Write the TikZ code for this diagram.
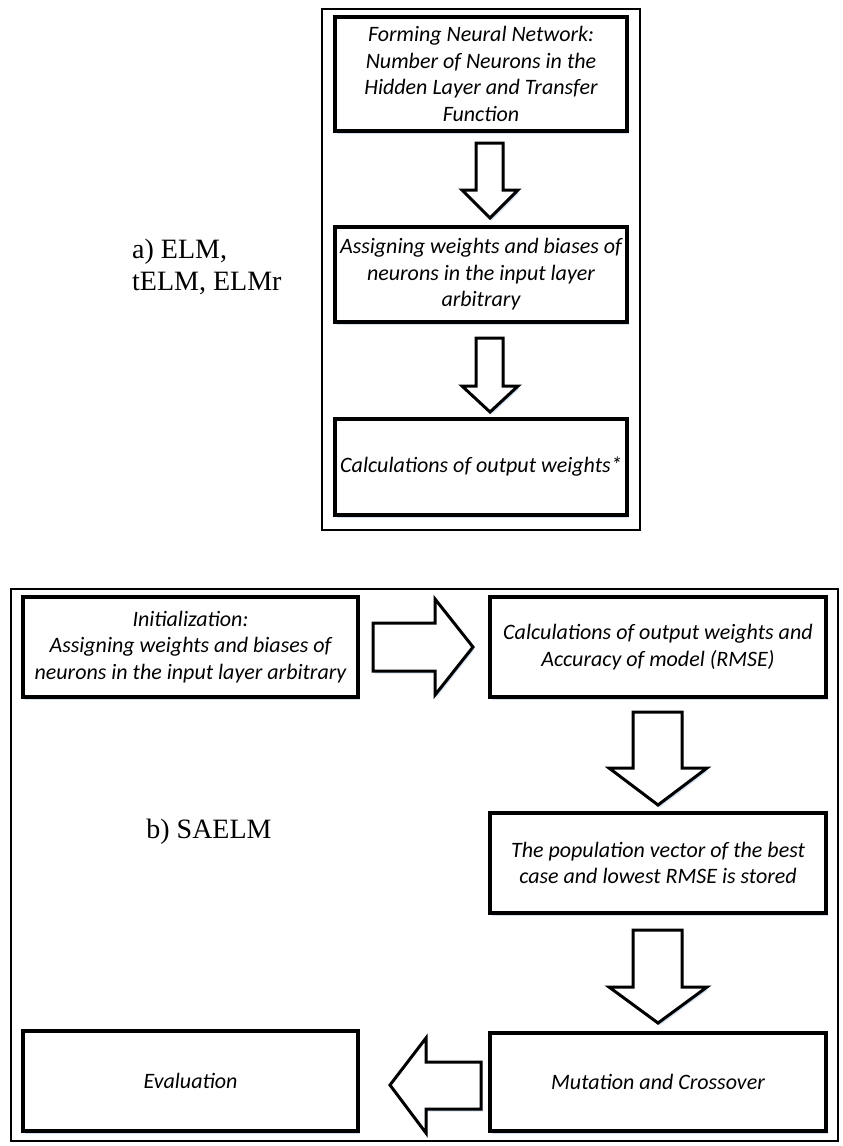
\documentclass[tikz,border=0pt]{standalone}
\usepackage{fontspec}
\setmainfont{Liberation Serif}
\newfontfamily\boxfont{Carlito}
\usetikzlibrary{shadows}
\begin{document}
\begin{tikzpicture}[x=1pt,y=-1pt,
  glow/.style={drop shadow={shadow xshift=1.5pt,shadow yshift=-2.5pt,fill={rgb,255:red,190;green,210;blue,235},opacity=0.7}},
  stepbox/.style={draw=black,line width=3.3pt,fill=white,glow,align=center,inner sep=0pt,
    font=\boxfont\itshape\fontsize{22}{26.5}\selectfont},
  frame/.style={draw=black,line width=1.6pt},
  blockarrow/.style={draw=black,line width=3pt,fill=white,line join=miter,glow},
  lab/.style={font=\fontsize{28}{32}\selectfont,inner sep=0pt}
]
\useasboundingbox (0,0) rectangle (843,1146);
\fill[white] (0,0) rectangle (843,1146);

% ---------- a) ELM, tELM, ELMr ----------
\draw[frame] (322,9) rectangle (640,530);
\node[stepbox,minimum width=292pt,minimum height=114pt] (b1) at (481,74)
  {Forming Neural Network:\\Number of Neurons in the\\Hidden Layer and Transfer\\Function};
\node[stepbox,minimum width=292pt,minimum height=95pt] (b2) at (481,274.5)
  {Assigning weights and biases of\\neurons in the input layer\\arbitrary};
\node[stepbox,minimum width=292pt,minimum height=96pt] (b3) at (481,467)
  {Calculations of output weights*};

\draw[blockarrow] (476,143) -- (503,143) -- (503,190) -- (518,190) -- (490,218)
  -- (462,190) -- (476,190) -- cycle;
\draw[blockarrow] (476,338) -- (503,338) -- (503,386) -- (518,386) -- (490,412)
  -- (462,386) -- (476,386) -- cycle;

\node[lab,anchor=base west] (la1) at (132,258) {a) ELM,};
\node[lab,anchor=base west] (la2) at (132,290) {tELM, ELMr};

% ---------- b) SAELM ----------
\draw[frame] (11,589) rectangle (838,1141);
\node[stepbox,minimum width=335pt,minimum height=100pt] (bI) at (190.5,647)
  {Initialization:\\Assigning weights and biases of\\neurons in the input layer arbitrary};
\node[stepbox,minimum width=336pt,minimum height=100pt] (bC) at (658,647)
  {Calculations of output weights and\\Accuracy of model (RMSE)};
\node[stepbox,minimum width=336pt,minimum height=100pt] (bP) at (658,863)
  {The population vector of the best\\case and lowest RMSE is stored};
\node[stepbox,minimum width=336pt,minimum height=98pt] (bM) at (658,1082)
  {Mutation and Crossover};
\node[stepbox,minimum width=335pt,minimum height=100pt] (bE) at (190.5,1081)
  {Evaluation};

% right arrow I -> C
\draw[blockarrow] (373,623) -- (435,623) -- (435,599) -- (473,647) -- (435,695)
  -- (435,671) -- (373,671) -- cycle;
% down arrow C -> P
\draw[blockarrow] (633,712) -- (682,712) -- (682,768) -- (707,768) -- (658,805)
  -- (609,768) -- (633,768) -- cycle;
% down arrow P -> M
\draw[blockarrow] (633,930) -- (682,930) -- (682,987) -- (707,987) -- (658,1023)
  -- (609,987) -- (633,987) -- cycle;
% left arrow M -> E
\draw[blockarrow] (481,1062) -- (426,1062) -- (426,1038) -- (390,1085) -- (426,1133)
  -- (426,1109) -- (481,1109) -- cycle;

\node[lab] (lb) at (209,832) {b) SAELM};
\end{tikzpicture}
\end{document}
